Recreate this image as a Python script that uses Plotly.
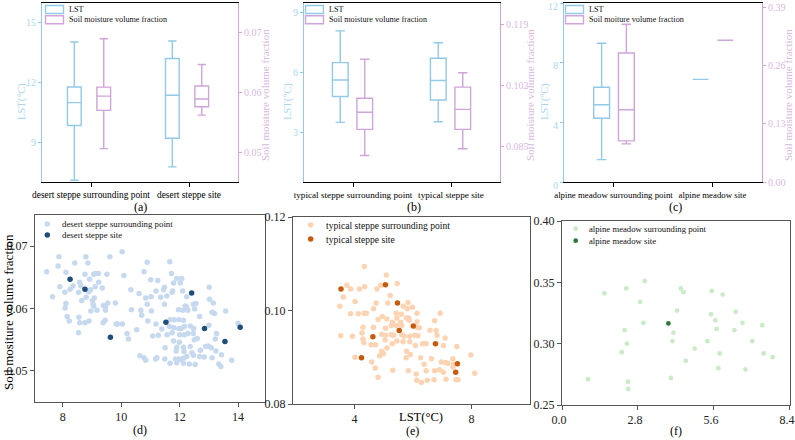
import plotly.graph_objects as go

# ---------------- top row: box statistics ----------------
cats_a = ["desert steppe surrounding point", "desert steppe site"]
cats_b = ["typical steppe surrounding point", "typical steppe site"]
cats_c = ["alpine meadow surrounding point", "alpine meadow site"]

# LST (°C): lower whisker, q1, median, q3, upper whisker
lst_a_low = [7.09, 7.76]
lst_a_q1 = [9.84, 9.20]
lst_a_med = [10.99, 11.36]
lst_a_q3 = [11.78, 13.21]
lst_a_up = [14.04, 14.09]
sm_a_low = [0.0506, 0.0562]
sm_a_q1 = [0.0570, 0.0576]
sm_a_med = [0.0594, 0.0589]
sm_a_q3 = [0.0609, 0.0611]
sm_a_up = [0.0690, 0.0647]

lst_b_low = [3.50, 3.53]
lst_b_q1 = [4.80, 4.62]
lst_b_med = [5.63, 5.60]
lst_b_q3 = [6.50, 6.72]
lst_b_up = [8.10, 7.50]
sm_b_low = [0.0824, 0.0843]
sm_b_q1 = [0.0897, 0.0897]
sm_b_med = [0.0945, 0.0953]
sm_b_q3 = [0.0984, 0.1015]
sm_b_up = [0.1093, 0.1055]

lst_c_low = [1.50, 6.88]
lst_c_q1 = [4.27, 6.88]
lst_c_med = [5.18, 6.88]
lst_c_q3 = [6.35, 6.88]
lst_c_up = [9.30, 6.88]
sm_c_low = [0.0852, 0.3168]
sm_c_q1 = [0.0919, 0.3168]
sm_c_med = [0.1614, 0.3168]
sm_c_q3 = [0.2884, 0.3168]
sm_c_up = [0.3526, 0.3168]

# ---------------- bottom row: scatter data ----------------
desert_sur_x = [7.87, 8.79, 9.61, 10.03, 7.84, 8.41, 8.86, 7.45, 8.11, 10.89, 8.76, 9.06, 9.13, 9.22, 9.51,
                10.09, 10.78, 8.58, 8.92, 9.23, 7.90, 8.35, 8.62, 9.11, 9.35, 8.25, 8.07, 8.54, 8.88, 8.95,
                10.33, 10.61, 7.65, 8.80, 9.08, 9.02, 8.65, 9.54, 9.80, 10.84, 8.11, 9.04, 9.06, 9.39, 9.46,
                10.89, 8.08, 8.96, 9.17, 9.46, 10.35, 10.67, 10.70, 8.15, 8.55, 8.22, 8.90, 9.45, 9.38, 8.58,
                8.76, 9.83, 9.87, 10.04, 10.91, 10.53, 8.54, 10.20, 10.25, 10.64, 10.78, 10.84,
                11.66, 11.72, 11.90, 12.07, 11.01, 11.25, 11.79, 12.02, 11.48, 11.45, 11.19, 11.76, 11.74,
                12.10, 11.02, 11.35, 11.56, 12.24, 13.01, 13.02, 13.15, 11.48, 12.47, 12.19, 12.24, 12.56,
                11.96, 12.11, 12.28, 12.51, 13.11, 13.19, 13.57, 11.03, 11.67, 11.81, 11.97, 12.13, 12.68,
                11.19, 11.39, 11.65, 11.80, 11.97, 12.05, 12.16, 12.36, 12.48, 13.00, 14.00, 11.08, 11.27,
                11.57, 11.74, 12.00, 12.16, 12.29, 12.47, 13.26, 12.50, 12.60, 11.79, 11.99, 13.22, 11.50,
                11.90, 12.13, 12.36, 12.89, 12.98, 13.08, 13.24, 11.88, 12.15, 12.42, 12.71, 11.22, 11.49,
                11.86, 11.97, 12.05, 12.13, 12.24, 12.47, 12.68, 12.84, 11.18, 13.11, 13.43, 13.78, 11.67,
                11.90, 12.13, 12.33, 12.53, 13.34, 13.41]
desert_sur_y = [0.0683, 0.0683, 0.0683, 0.0691, 0.0668, 0.0673, 0.0673, 0.0659, 0.0658, 0.0674, 0.0655,
                0.0655, 0.0656, 0.0656, 0.0655, 0.0653, 0.0659, 0.0642, 0.0647, 0.0642, 0.0635, 0.0636,
                0.0636, 0.0635, 0.0633, 0.0631, 0.0626, 0.0626, 0.0627, 0.0630, 0.0630, 0.0624, 0.0619,
                0.0618, 0.0617, 0.0613, 0.0613, 0.0609, 0.0609, 0.0617, 0.0608, 0.0607, 0.0604, 0.0605,
                0.0602, 0.0607, 0.0601, 0.0596, 0.0597, 0.0597, 0.0598, 0.0597, 0.0589, 0.0587, 0.0586,
                0.0580, 0.0580, 0.0581, 0.0577, 0.0577, 0.0577, 0.0575, 0.0575, 0.0575, 0.0580, 0.0566,
                0.0561, 0.0560, 0.0551, 0.0524, 0.0521, 0.0517,
                0.0675, 0.0656, 0.0648, 0.0648, 0.0646, 0.0645, 0.0641, 0.0641, 0.0634, 0.0630, 0.0628,
                0.0628, 0.0626, 0.0628, 0.0619, 0.0618, 0.0620, 0.0619, 0.0634, 0.0615, 0.0609, 0.0607,
                0.0607, 0.0604, 0.0602, 0.0608, 0.0598, 0.0597, 0.0597, 0.0599, 0.0594, 0.0592, 0.0596,
                0.0596, 0.0582, 0.0582, 0.0582, 0.0581, 0.0587, 0.0575, 0.0567, 0.0571, 0.0569, 0.0568,
                0.0568, 0.0571, 0.0572, 0.0568, 0.0573, 0.0576, 0.0556, 0.0557, 0.0558, 0.0561, 0.0558,
                0.0558, 0.0560, 0.0560, 0.0560, 0.0550, 0.0552, 0.0548, 0.0546, 0.0551, 0.0537, 0.0538,
                0.0538, 0.0539, 0.0539, 0.0540, 0.0537, 0.0532, 0.0532, 0.0531, 0.0529, 0.0533, 0.0521,
                0.0519, 0.0519, 0.0519, 0.0518, 0.0520, 0.0523, 0.0525, 0.0523, 0.0522, 0.0519, 0.0521,
                0.0526, 0.0517, 0.0512, 0.0513, 0.0512, 0.0511, 0.0510, 0.0511, 0.0507]
desert_site_x = [8.25, 8.76, 9.63, 11.53, 12.41, 12.85, 13.55, 14.07]
desert_site_y = [0.0647, 0.0631, 0.0554, 0.0578, 0.0625, 0.0568, 0.0547, 0.0570]

typical_sur_x = [4.34, 5.09, 3.74, 3.87, 4.17, 4.35, 4.77, 4.90, 5.46, 3.62, 4.02, 3.50, 5.22, 4.74, 5.14,
                 5.83, 4.65, 5.67, 5.81, 5.98, 3.87, 4.13, 4.33, 4.41, 5.43, 5.60, 4.95, 4.81, 5.11, 5.45,
                 5.77, 5.85, 5.30, 5.58, 5.87, 4.29, 4.65, 5.06, 5.26, 5.43, 5.61, 4.26, 3.93, 3.53, 4.93,
                 5.06, 5.25, 5.34, 5.62, 5.89, 5.70, 6.06, 4.29, 4.32, 4.57, 4.72, 5.05, 5.45, 5.66, 5.89,
                 4.02, 4.93, 4.99, 4.86, 5.11, 5.29, 5.78, 5.91, 4.59, 4.71, 5.31, 5.84, 5.77, 4.81,
                 6.14, 6.93, 6.14, 6.74, 6.13, 6.22, 6.58, 6.79, 6.82, 6.17, 7.10, 6.08, 6.33, 6.45, 7.04,
                 7.50, 7.36, 7.98, 6.26, 6.63, 6.97, 7.11, 7.19, 6.38, 7.39, 7.37, 6.45, 6.74, 6.90, 7.04,
                 6.11, 8.11, 6.13, 6.49, 6.72, 7.13, 7.47, 7.54, 6.29]
typical_sur_y = [0.1094, 0.1076, 0.1054, 0.1046, 0.1046, 0.1051, 0.1046, 0.1054, 0.1058, 0.1029, 0.1019,
                 0.1009, 0.1032, 0.1016, 0.1016, 0.1017, 0.1004, 0.1009, 0.1004, 0.1007, 0.0993, 0.0993,
                 0.0994, 0.0994, 0.0994, 0.0992, 0.0987, 0.0981, 0.0982, 0.0984, 0.0984, 0.0984, 0.0975,
                 0.0975, 0.0979, 0.0964, 0.0964, 0.0962, 0.0968, 0.0968, 0.0968, 0.0952, 0.0945, 0.0946,
                 0.0949, 0.0947, 0.0948, 0.0947, 0.0948, 0.0945, 0.0945, 0.0947, 0.0939, 0.0931, 0.0927,
                 0.0927, 0.0937, 0.0935, 0.0933, 0.0933, 0.0900, 0.0913, 0.0908, 0.0903, 0.0920, 0.0929,
                 0.0913, 0.0906, 0.0890, 0.0877, 0.0872, 0.0871, 0.0899, 0.0857,
                 0.0994, 0.0994, 0.0976, 0.0978, 0.0964, 0.0963, 0.0958, 0.0957, 0.0947, 0.0946, 0.0941,
                 0.0925, 0.0929, 0.0929, 0.0925, 0.0923, 0.0897, 0.0905, 0.0899, 0.0897, 0.0890, 0.0889,
                 0.0887, 0.0885, 0.0885, 0.0879, 0.0871, 0.0871, 0.0873, 0.0868, 0.0864, 0.0866, 0.0851,
                 0.0851, 0.0852, 0.0853, 0.0852, 0.0852, 0.0846]
typical_site_x = [3.54, 5.06, 5.47, 6.01, 5.53, 4.63, 4.24, 6.77, 7.52, 7.46]
typical_site_y = [0.1046, 0.1055, 0.1016, 0.0967, 0.0957, 0.0944, 0.0899, 0.0929, 0.0886, 0.0868]

alpine_sur_x = [0.96, 1.56, 2.37, 3.05, 2.88, 2.31, 2.39, 2.20, 3.00, 2.43, 2.44, 4.38, 4.48, 4.24, 4.11,
                4.07, 4.01, 4.56, 4.89, 5.36, 5.52, 5.92, 5.49, 5.65, 5.70, 5.81, 5.76, 6.40, 6.35, 6.65,
                7.01, 6.76, 7.38, 7.43, 7.76]
alpine_sur_y = [0.271, 0.341, 0.345, 0.351, 0.334, 0.311, 0.300, 0.293, 0.317, 0.269, 0.263, 0.345, 0.342,
                0.327, 0.309, 0.302, 0.272, 0.286, 0.296, 0.302, 0.343, 0.340, 0.324, 0.319, 0.312, 0.292,
                0.280, 0.326, 0.311, 0.317, 0.302, 0.279, 0.315, 0.292, 0.289]
alpine_site_x = [3.92]
alpine_site_y = [0.3165]

# ---------------- styling ----------------
SERIF = "Liberation Serif, Times New Roman, serif"
LST_C = "#92c9e8"
LST_T = "#a9d6ef"
SM_C = "#cfa4d9"
SM_T = "#d9b8e2"
FRAME = "#555555"
W, H = 795, 440


def px_x(a, b):
    return [a / W, b / W]


def px_y(top, bottom):
    return [1 - bottom / H, 1 - top / H]


fig = go.Figure()
shapes = []
ann = []


def text(t, x, y, size, color="black", angle=0, xanchor="center"):
    ann.append(dict(text=t, x=x / W, y=1 - y / H, xref="paper", yref="paper", showarrow=False,
                    textangle=angle, xanchor=xanchor, yanchor="middle",
                    font=dict(family=SERIF, size=size, color=color)))


top_panels = [
    dict(cats=cats_a, xa="x", ya="y", ya2="y2", off=(-0.17, 0.13), w=0.14, legx=45.5,
         lst=(lst_a_low, lst_a_q1, lst_a_med, lst_a_q3, lst_a_up),
         sm=(sm_a_low, sm_a_q1, sm_a_med, sm_a_q3, sm_a_up),
         sm_name="Soil moisture volume fraction"),
    dict(cats=cats_b, xa="x2", ya="y3", ya2="y4", off=(-0.13, 0.12), w=0.16, legx=305.5,
         lst=(lst_b_low, lst_b_q1, lst_b_med, lst_b_q3, lst_b_up),
         sm=(sm_b_low, sm_b_q1, sm_b_med, sm_b_q3, sm_b_up),
         sm_name="Soil moisture volume fraction"),
    dict(cats=cats_c, xa="x3", ya="y5", ya2="y6", off=(-0.12, 0.13), w=0.16, legx=565.5,
         lst=(lst_c_low, lst_c_q1, lst_c_med, lst_c_q3, lst_c_up),
         sm=(sm_c_low, sm_c_q1, sm_c_med, sm_c_q3, sm_c_up),
         sm_name="Soil moiture volume fraction"),
]

for p in top_panels:
    pos = list(range(len(p["cats"])))
    entries = [(p["lst"], LST_C, "LST", p["ya"], p["off"][0]),
               (p["sm"], SM_C, p["sm_name"], p["ya2"], p["off"][1])]
    for k, (stats, color, name, ya, off) in enumerate(entries):
        lo, q1, med, q3, hi = stats
        fig.add_trace(go.Box(
            x=[i + off for i in pos], lowerfence=lo, q1=q1, median=med, q3=q3, upperfence=hi,
            name=name, xaxis=p["xa"], yaxis=ya, width=p["w"], showlegend=False,
            line=dict(color=color, width=1.4), fillcolor="rgba(255,255,255,0)",
            whiskerwidth=0.6, boxpoints=False, hoverinfo="skip"))
        # legend entry (outlined patch + label)
        y0 = 5.5 + k * 10.2
        shapes.append(dict(type="rect", xref="paper", yref="paper", layer="above", opacity=1,
                           x0=p["legx"] / W, x1=(p["legx"] + 18) / W,
                           y0=1 - (y0 + 8) / H, y1=1 - y0 / H,
                           line=dict(color=color, width=1.4), fillcolor="rgba(255,255,255,0)"))
        text(name, p["legx"] + 21.5, y0 + 4.2, 8.2, "#111", xanchor="left")

scatter_panels = [
    ("x4", "y7", desert_sur_x, desert_sur_y, desert_site_x, desert_site_y,
     "desert steppe surrounding point", "desert steppe site", "#c6d9ee", "#1f4e7a", 5.5,
     47.3, (224, 235), 60, 8.8),
    ("x5", "y8", typical_sur_x, typical_sur_y, typical_site_x, typical_site_y,
     "typical steppe surrounding point", "typical steppe site", "#fdd4b3", "#c75b0b", 5.5,
     310.7, (225, 239), 324.3, 9.6),
    ("x6", "y9", alpine_sur_x, alpine_sur_y, alpine_site_x, alpine_site_y,
     "alpine meadow surrounding point", "alpine meadow site", "#cbeac7", "#2f7a3a", 4.8,
     575.7, (228.7, 240.7), 586.7, 8.7),
]
for xa, ya, sx, sy, tx, ty, n1, n2, c1, c2, ms, lx, lys, tx0, fs in scatter_panels:
    fig.add_trace(go.Scatter(x=sx, y=sy, mode="markers", name=n1, xaxis=xa, yaxis=ya, showlegend=False,
                             marker=dict(size=ms, color=c1), hoverinfo="skip"))
    fig.add_trace(go.Scatter(x=tx, y=ty, mode="markers", name=n2, xaxis=xa, yaxis=ya, showlegend=False,
                             marker=dict(size=ms, color=c2), hoverinfo="skip"))
    r = ms / 2
    for ly, c, n in zip(lys, (c1, c2), (n1, n2)):
        shapes.append(dict(type="circle", xref="paper", yref="paper",
                           x0=(lx - r) / W, x1=(lx + r) / W, y0=1 - (ly + r) / H, y1=1 - (ly - r) / H,
                           line=dict(width=0), fillcolor=c))
        text(n, tx0, ly, fs, "#111", xanchor="left")

# ---------------- axes ----------------
common = dict(showgrid=False, zeroline=False, showline=True, ticks="outside", ticklen=4, automargin=False,
              ticklabeloverflow="allow")

top_x = [("xaxis", "y", cats_a, px_x(42, 238), 9.4), ("xaxis2", "y3", cats_b, px_x(304, 500), 9.2),
         ("xaxis3", "y5", cats_c, px_x(564, 762), 8.8)]
for key, anchor, cats, dom, fsz in top_x:
    fig.layout[key] = dict(common, domain=dom, anchor=anchor, range=[-0.5, 1.5], tickangle=0,
                           tickvals=[0, 1], ticktext=cats, linecolor="black", tickcolor="black",
                           mirror=True, linewidth=1, tickfont=dict(family=SERIF, size=fsz, color="black"))

top_dom = px_y(3, 182)
top_y = [("yaxis", "x", [7, 16], [9, 12, 15], "yaxis2", [0.045, 0.075], [0.05, 0.06, 0.07], ".2f", "y", 0),
         ("yaxis3", "x2", [0.5, 9.5], [3, 6, 9], "yaxis4", [0.075, 0.125], [0.085, 0.102, 0.119], ".3f", "y3", 0),
         ("yaxis5", "x3", [0, 12.001], [0, 4, 8, 12], "yaxis6", [0, 0.40], [0.0, 0.13, 0.26, 0.39], ".2f", "y5", 3)]
for key, anchor, rng, tv, key2, rng2, tv2, fmt2, base, shift in top_y:
    fig.layout[key] = dict(common, domain=top_dom, anchor=anchor, range=rng, tickvals=tv, ticklen=3,
                           linecolor=LST_C, tickcolor=LST_C, linewidth=1, ticklabelshift=shift,
                           tickfont=dict(family=SERIF, size=10, color=LST_T))
    fig.layout[key2] = dict(common, overlaying=base, side="right", anchor=anchor, range=rng2, ticklen=3,
                            tickvals=tv2, tickformat=fmt2, linecolor=SM_C, tickcolor=SM_C, linewidth=1,
                            tickfont=dict(family=SERIF, size=10, color=SM_T))

bot = [("xaxis4", "yaxis7", "y7", "x4", px_x(35, 265), px_y(215, 402), [7.05, 14.92], [8, 10, 12, 14], None,
        [0.045, 0.075], [0.05, 0.06, 0.07], ".2f", 0),
       ("xaxis5", "yaxis8", "y8", "x5", px_x(293, 530), px_y(217, 404), [1.9, 10.0], [4, 8], None,
        [0.08, 0.12], [0.08, 0.10, 0.12], ".2f", 0),
       ("xaxis6", "yaxis9", "y9", "x6", px_x(562, 790), px_y(221, 405), [0, 8.402], [0.0, 2.8, 5.6, 8.4], ".1f",
        [0.25, 0.40], [0.25, 0.30, 0.35, 0.40], ".2f", -3)]
for xk, yk, ya, xa, xd, yd, xr, xt, xf, yr, yt, yf, shift in bot:
    fig.layout[xk] = dict(common, domain=xd, anchor=ya, range=xr, tickvals=xt, tickformat=xf,
                          linecolor=FRAME, tickcolor=FRAME, mirror=True, linewidth=1, ticklabelshift=shift,
                          tickfont=dict(family=SERIF, size=12, color="#222"))
    fig.layout[yk] = dict(common, domain=yd, anchor=xa, range=yr, tickvals=yt, tickformat=yf,
                          linecolor=FRAME, tickcolor=FRAME, mirror=True, linewidth=1,
                          tickfont=dict(family=SERIF, size=12, color="#222"))

# ---------------- annotations ----------------
for t, x, y in [("(a)", 140, 207), ("(b)", 414, 207), ("(c)", 675, 207),
                ("(d)", 140, 430), ("(e)", 412, 431), ("(f)", 676, 431)]:
    text(t, x, y, 12)
for x in (22, 288, 545):
    text("LST(°C)", x, 102, 10.5, LST_T, angle=-90)
for x in (265, 530, 788):
    text("Soil moisture volume fraction", x, 95, 11, SM_T, angle=-90)
text("Soil mositure volume fraction", 8, 312, 13, "black", angle=-90)
text("LST(°C)", 421, 417, 12.5, "black")

fig.update_layout(width=W, height=H, margin=dict(l=0, r=0, t=0, b=0, autoexpand=False),
                  paper_bgcolor="white", plot_bgcolor="white", font=dict(family=SERIF),
                  annotations=ann, shapes=shapes, showlegend=False)

fig.write_html("out.html", config={"displayModeBar": False},
               post_script="document.body.style.margin='0px';")
